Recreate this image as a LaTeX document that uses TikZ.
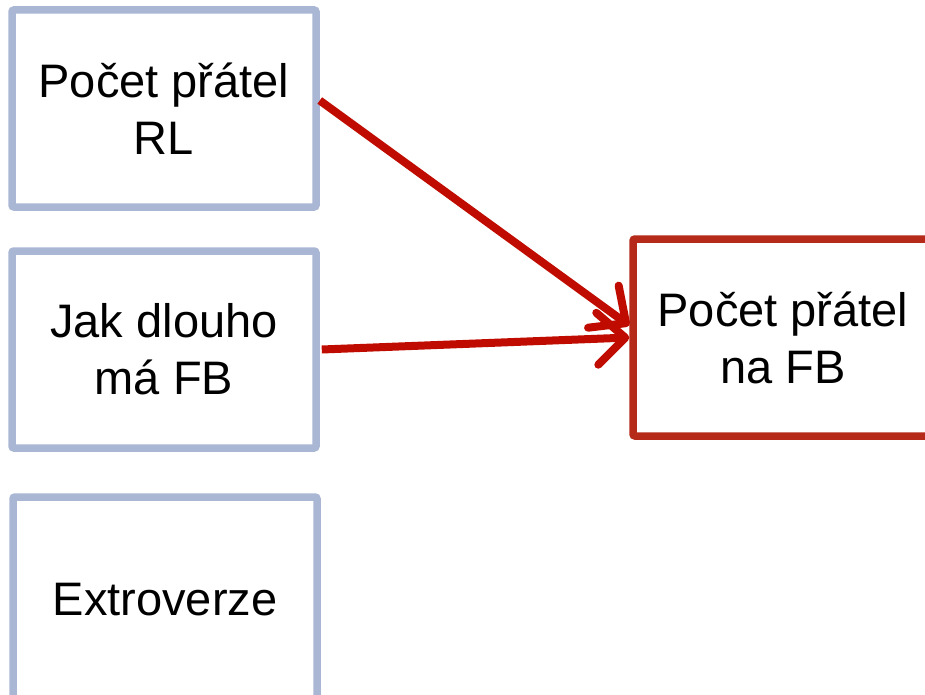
\documentclass[tikz,border=0pt]{standalone}
\usepackage{fontspec}
\setmainfont{Liberation Sans}
\usetikzlibrary{arrows.meta,calc}
\definecolor{boxblue}{RGB}{170,183,212}
\definecolor{boxred}{RGB}{182,42,26}
\definecolor{arrred}{RGB}{192,12,0}
\begin{document}
\begin{tikzpicture}[x=1pt,y=-1pt,
  lbl/.style={font=\fontsize{47}{57}\selectfont,align=center},
  varbox/.style={lbl,draw=boxblue,line width=7.5pt,rounded corners=2pt,fill=white,
    minimum width=304pt,minimum height=197pt,inner sep=0pt},
  outbox/.style={varbox,draw=boxred,minimum width=300pt},
  conn/.style={draw=arrred,line width=8pt,
    -{Straight Barb[length=28pt,width=52pt,line cap=round,round]}}]
\useasboundingbox (0,0) rectangle (925,695);
\node[varbox] (b1) at (164,108.5) {Počet přátel\\RL};
\node[varbox] (b2) at (164,349.5) {Jak dlouho\\má FB};
\node[varbox,minimum height=250pt] (b3) at (165,622) {};
\node[lbl] (t3) at (165,600) {Extroverze};
\node[outbox] (o) at (783,337.5) {Počet přátel\\na FB};
\draw[conn] ($(b1.east)+(0,-8)$) -- ($(o.west)+(0,-12)$);
\draw[conn] ($(b2.east)+(2,0)$) -- ($(o.west)+(0,0)$);
\end{tikzpicture}
\end{document}
